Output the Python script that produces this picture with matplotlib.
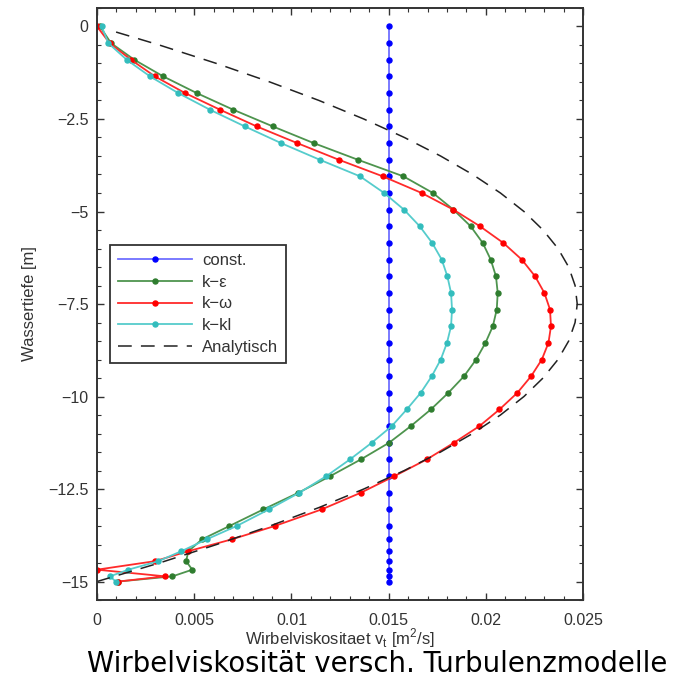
import matplotlib
matplotlib.use('Agg')
import matplotlib.pyplot as plt
from matplotlib.ticker import MultipleLocator

# depth grid of the model (m below surface)
depth = [0.0, 0.45, 0.9, 1.35, 1.8, 2.25, 2.7, 3.15, 3.6, 4.05, 4.5, 4.95,
         5.4, 5.85, 6.3, 6.75, 7.2, 7.65, 8.1, 8.55, 9.0, 9.45, 9.9, 10.35,
         10.8, 11.25, 11.7, 12.15, 12.6, 13.05, 13.5, 13.86, 14.18, 14.45,
         14.68, 14.86, 15.0]

nu_const = [0.015] * len(depth)

nu_keps = [0.00015, 0.00072, 0.00192, 0.00341, 0.00513, 0.00701, 0.00904,
           0.01114, 0.01341, 0.01576, 0.01728, 0.01833, 0.01922, 0.01984,
           0.02025, 0.02052, 0.02061, 0.02056, 0.02036, 0.01998, 0.0195,
           0.01888, 0.01807, 0.01717, 0.01614, 0.01502, 0.01357, 0.0120,
           0.01036, 0.00856, 0.00681, 0.0054, 0.0047, 0.00458, 0.0049,
           0.00388, 0.0011]

nu_komega = [0.0, 0.00065, 0.00175, 0.00298, 0.00453, 0.00633, 0.00821,
             0.01029, 0.01243, 0.0147, 0.0167, 0.01833, 0.0197, 0.0209,
             0.02185, 0.02253, 0.02301, 0.0233, 0.02335, 0.02322, 0.02288,
             0.02233, 0.02162, 0.0207, 0.01967, 0.01836, 0.01696, 0.0153,
             0.01357, 0.01156, 0.00914, 0.00693, 0.0047, 0.00298, 0.0,
             0.0035, 0.0011]

nu_kkl = [0.00024, 0.00058, 0.00153, 0.00273, 0.00418, 0.00581, 0.0076,
          0.00946, 0.01145, 0.01353, 0.01477, 0.01579, 0.0166, 0.01724,
          0.01773, 0.01802, 0.01821, 0.01826, 0.01821, 0.018, 0.01768,
          0.01722, 0.01665, 0.01593, 0.01516, 0.01413, 0.01301, 0.0118,
          0.01041, 0.00884, 0.00718, 0.00564, 0.00434, 0.00315, 0.00161,
          0.00067, 0.00096]

# analytic profile
depth_an = [0.15, 0.5, 1.0, 1.5, 2.0, 2.5, 3.0, 3.5, 4.0, 4.5, 5.0, 5.5,
            6.0, 6.5, 7.0, 7.5, 8.0, 8.5, 9.0, 9.5, 10.0, 10.5, 11.0, 11.5,
            12.0, 12.5, 13.0, 13.5, 14.0, 14.5, 15.0]
nu_an = [0.00098, 0.0032, 0.00615, 0.00889, 0.01142, 0.01372, 0.01581,
         0.01767, 0.01932, 0.02075, 0.02196, 0.02294, 0.02371, 0.02426,
         0.02459, 0.0247, 0.02459, 0.02426, 0.02371, 0.02294, 0.02196,
         0.02075, 0.01932, 0.01767, 0.01581, 0.01372, 0.01142, 0.00889,
         0.00615, 0.0032, 0.0]

y_model = [-d for d in depth]
y_an = [-d for d in depth_an]

plt.rcParams['font.family'] = ['Liberation Sans', 'DejaVu Sans']

fig = plt.figure(figsize=(6.79, 6.77), dpi=100)
ax = fig.add_axes([0.1429, 0.1137, 0.7158, 0.8745])

ms = 3.6
ax.plot(nu_const, y_model, '-o', color='#7070ff', lw=1.3, ms=ms,
        mfc='#0000ff', mec='#0000ff', label='const.')
ax.plot(nu_keps, y_model, '-o', color='#4e944e', lw=1.3, ms=ms,
        mfc='#2f7d2f', mec='#2f7d2f', label='k\u2212\u03b5')
ax.plot(nu_komega, y_model, '-o', color='#ff2a2a', lw=1.3, ms=ms,
        mfc='#ff0000', mec='#ff0000', label='k\u2212\u03c9')
ax.plot(nu_kkl, y_model, '-o', color='#55cccc', lw=1.3, ms=ms,
        mfc='#33bdbd', mec='#33bdbd', label='k\u2212kl')
ax.plot(nu_an, y_an, color='#222222', lw=1.1, dashes=(9, 6),
        label='Analytisch')

ax.set_xlim(0, 0.025)
ax.set_ylim(-15.5, 0.5)

ax.set_xticks([0, 0.005, 0.01, 0.015, 0.02, 0.025],
              ['0', '0.005', '0.01', '0.015', '0.02', '0.025'])
ax.set_yticks([-15, -12.5, -10, -7.5, -5, -2.5, 0],
              ['\u221215', '\u221212.5', '\u221210', '\u22127.5', '\u22125',
               '\u22122.5', '0'])
ax.xaxis.set_minor_locator(MultipleLocator(0.001))
ax.yaxis.set_minor_locator(MultipleLocator(0.5))
ax.tick_params(which='both', direction='in', top=True, right=True,
               labelsize=11.5, labelcolor='#333333', color='#333333')
ax.tick_params(which='major', length=5, width=1)
ax.tick_params(which='minor', length=3, width=0.8)
ax.tick_params(axis='x', pad=9)
ax.tick_params(axis='y', pad=6)
for s in ax.spines.values():
    s.set_color('#333333')
    s.set_linewidth(1.4)

ax.set_ylabel('Wassertiefe [m]', fontsize=12, color='#333333', labelpad=8)
ax.set_xlabel(r'Wirbelviskositaet v$_\mathregular{t}$ [m$^\mathregular{2}$/s]',
              fontsize=12, color='#333333', labelpad=-1)

leg = ax.legend(loc='upper left', bbox_to_anchor=(0.027, 0.60),
                borderaxespad=0, fontsize=12, handlelength=4.4,
                labelspacing=0.4, fancybox=False, framealpha=1,
                edgecolor='#333333', borderpad=0.5, handletextpad=0.6)
leg.get_frame().set_linewidth(1.3)
for t in leg.get_texts():
    t.set_color('#333333')

fig.text(0.556, 0.007, 'Wirbelviskosit\u00e4t versch. Turbulenzmodelle',
         ha='center', va='baseline', fontsize=19.8,
         family=['DejaVu Sans'], color='black')

fig.savefig('out.png', dpi=100)
